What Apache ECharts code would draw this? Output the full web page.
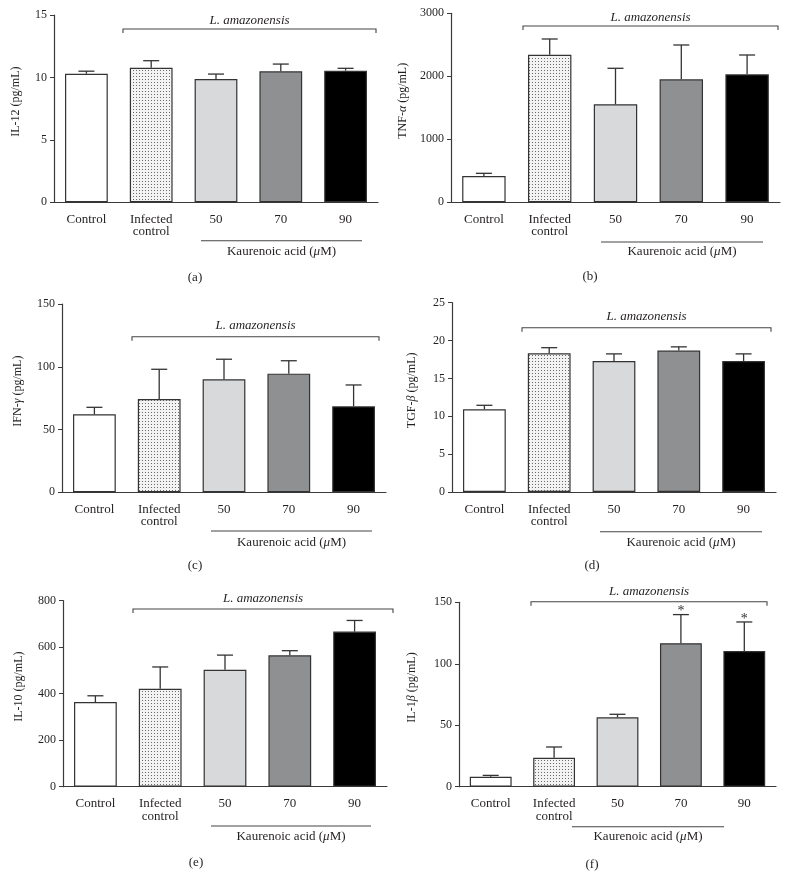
<!DOCTYPE html>
<html>
<head>
<meta charset="utf-8">
<script src="https://cdn.jsdelivr.net/npm/echarts@6/dist/echarts.min.js"></script>
<style>
html,body{margin:0;padding:0;background:#fff;}
#chart{width:789px;height:876px;}
</style>
</head>
<body>
<div id="chart"></div>
<script>
// ---- Data ----
const categories = ['Control', 'Infected\ncontrol', '50', '70', '90'];

const il12Mean = [10.3, 10.78, 9.87, 10.49, 10.54];
const il12Upper = [10.5, 11.34, 10.27, 11.07, 10.73];

const tnfMean = [417, 2343, 1556, 1952, 2032];
const tnfUpper = [460, 2592, 2127, 2497, 2338];

const ifnMean = [62.1, 74.3, 90.0, 94.5, 68.5];
const ifnUpper = [67.7, 98.0, 106, 104.8, 85.5];

const tgfMean = [10.92, 18.32, 17.3, 18.68, 17.3];
const tgfUpper = [11.45, 19.06, 18.24, 19.17, 18.24];

const il10Mean = [364, 421, 503, 565, 667];
const il10Upper = [391, 515, 566, 585, 715];

const il1bMean = [8.1, 23.6, 56.4, 116.7, 110.4];
const il1bUpper = [9.2, 32.3, 58.9, 140.0, 134.0];
const il1bSig = [0, 0, 0, 1, 1];

const yMaxes = [15, 3000, 150, 25, 800, 150];
const yIntervals = [5, 1000, 50, 5, 200, 50];
const panelLetters = ['(a)', '(b)', '(c)', '(d)', '(e)', '(f)'];
const yNames = [
  'IL-12 (pg/mL)',
  'TNF-{i|α} (pg/mL)',
  'IFN-{i|γ} (pg/mL)',
  'TGF-{i|β} (pg/mL)',
  'IL-10 (pg/mL)',
  'IL-1{i|β} (pg/mL)'
];
const groupLabel = 'L. amazonensis';
const drugLabel = 'Kaurenoic acid ({i|μ}M)';

const panels = [
  {mean: il12Mean, upper: il12Upper, sig: null},
  {mean: tnfMean, upper: tnfUpper, sig: null},
  {mean: ifnMean, upper: ifnUpper, sig: null},
  {mean: tgfMean, upper: tgfUpper, sig: null},
  {mean: il10Mean, upper: il10Upper, sig: null},
  {mean: il1bMean, upper: il1bUpper, sig: il1bSig}
];

// ---- Layout (pixels) ----
const layout = [
  {left: 54, width: 324, top: 15, height: 187.3, nameGap: 32,
   br: {x1: 123, x2: 376, y: 29, ty: 21}, kl: {x1: 201, x2: 362, y: 240.7, ty: 252}, lab: {x: 195, y: 278}},
  {left: 451, width: 329, top: 13.3, height: 189, nameGap: 42,
   br: {x1: 523, x2: 778, y: 26, ty: 18}, kl: {x1: 601, x2: 763, y: 242, ty: 252}, lab: {x: 590, y: 277}},
  {left: 62, width: 324, top: 304, height: 188.3, nameGap: 38,
   br: {x1: 132, x2: 379, y: 336.7, ty: 326}, kl: {x1: 211, x2: 372, y: 531, ty: 543}, lab: {x: 195, y: 566}},
  {left: 452, width: 324, top: 302.7, height: 189.3, nameGap: 34,
   br: {x1: 522, x2: 771, y: 327.7, ty: 317}, kl: {x1: 600, x2: 762, y: 531.7, ty: 542.7}, lab: {x: 592, y: 566}},
  {left: 63, width: 324, top: 600.7, height: 186, nameGap: 38,
   br: {x1: 133, x2: 393, y: 609, ty: 599}, kl: {x1: 211, x2: 371, y: 826, ty: 837}, lab: {x: 196, y: 863}},
  {left: 459, width: 317, top: 602.3, height: 184.4, nameGap: 41,
   br: {x1: 531, x2: 767, y: 601.7, ty: 592}, kl: {x1: 572, x2: 724, y: 826.7, ty: 837}, lab: {x: 592, y: 865}}
];

const FONT = '"Liberation Serif", "DejaVu Serif", serif';
const TXT = '#231f20';
const AXIS = '#3a3a3a';

// dotted pattern for infected control
function makeDots() {
  const c = document.createElement('canvas');
  c.width = 3; c.height = 3;
  const g = c.getContext('2d');
  g.fillStyle = '#f3f3f3';
  g.fillRect(0, 0, 3, 3);
  g.fillStyle = '#6a6a6a';
  g.fillRect(1, 1, 1, 1);
  return c;
}
const dotPattern = {image: makeDots(), repeat: 'repeat'};
const barColors = ['#ffffff', dotPattern, '#d8d9da', '#8f9092', '#000000'];

const grids = [], xAxes = [], yAxes = [], series = [], graphics = [];

panels.forEach((p, i) => {
  const L = layout[i];
  grids.push({left: L.left, top: L.top, width: L.width, height: L.height, containLabel: false});
  xAxes.push({
    type: 'category', gridIndex: i, data: categories,
    axisLine: {lineStyle: {color: AXIS, width: 1.2}},
    axisTick: {alignWithLabel: true, length: 4, lineStyle: {color: AXIS}},
    axisLabel: {interval: 0, color: TXT, fontFamily: FONT, fontSize: 13, lineHeight: 12.5, margin: 11}
  });
  yAxes.push({
    type: 'value', gridIndex: i, min: 0, max: yMaxes[i], interval: yIntervals[i],
    name: yNames[i], nameLocation: 'middle', nameGap: L.nameGap, nameRotate: 90,
    nameTextStyle: {color: TXT, fontFamily: FONT, fontSize: 12, padding: [0, 0, 0, 14],
      rich: {i: {fontStyle: 'italic', fontFamily: FONT, fontSize: 12, color: TXT}}},
    axisLine: {show: true, lineStyle: {color: AXIS, width: 1.2}},
    axisTick: {show: true, length: 4, lineStyle: {color: AXIS}},
    splitLine: {show: false},
    axisLabel: {color: TXT, fontFamily: FONT, fontSize: 12, margin: 7,
      formatter: function (v) { return String(v); }}
  });
  series.push({
    type: 'bar', xAxisIndex: i, yAxisIndex: i, barWidth: '66%',
    data: p.mean.map((v, k) => ({value: v, itemStyle: {color: barColors[k]}})),
    itemStyle: {borderColor: '#333', borderWidth: 1.2},
    emphasis: {disabled: true}, silent: true, z: 2
  });
  series.push({
    type: 'custom', xAxisIndex: i, yAxisIndex: i, z: 3, silent: true,
    data: p.mean.map((v, k) => [k, v, p.upper[k], p.sig ? p.sig[k] : 0]),
    renderItem: function (params, api) {
      const k = api.value(0);
      const a = api.coord([k, api.value(1)]);
      const b = api.coord([k, api.value(2)]);
      const hw = 8;
      const st = {stroke: '#333', lineWidth: 1.3};
      const children = [
        {type: 'line', shape: {x1: a[0], y1: a[1], x2: b[0], y2: b[1]}, style: st},
        {type: 'line', shape: {x1: b[0] - hw, y1: b[1], x2: b[0] + hw, y2: b[1]}, style: st}
      ];
      if (api.value(3)) {
        children.push({type: 'text', style: {text: '*', x: b[0], y: b[1] - 3,
          align: 'center', verticalAlign: 'middle', fontFamily: FONT, fontSize: 14, fill: '#333'}});
      }
      return {type: 'group', children: children};
    }
  });

  // L. amazonensis bracket
  const br = L.br;
  graphics.push({type: 'polyline', silent: true,
    shape: {points: [[br.x1, br.y + 4], [br.x1, br.y], [br.x2, br.y], [br.x2, br.y + 4]]},
    style: {stroke: '#444', lineWidth: 1.1, fill: null}});
  graphics.push({type: 'text', silent: true,
    style: {text: groupLabel, x: (br.x1 + br.x2) / 2, y: br.ty, align: 'center', verticalAlign: 'middle',
      fontFamily: FONT, fontSize: 13, fontStyle: 'italic', fill: TXT}});
  // Kaurenoic acid line
  const kl = L.kl;
  graphics.push({type: 'line', silent: true,
    shape: {x1: kl.x1, y1: kl.y, x2: kl.x2, y2: kl.y}, style: {stroke: '#444', lineWidth: 1.1}});
  graphics.push({type: 'text', silent: true,
    style: {text: drugLabel, x: (kl.x1 + kl.x2) / 2, y: kl.ty, align: 'center', verticalAlign: 'middle',
      fontFamily: FONT, fontSize: 13, fill: TXT,
      rich: {i: {fontStyle: 'italic', fontFamily: FONT, fontSize: 13, fill: TXT}}}});
  // panel letter
  graphics.push({type: 'text', silent: true,
    style: {text: panelLetters[i], x: L.lab.x, y: L.lab.y, align: 'center', verticalAlign: 'middle',
      fontFamily: FONT, fontSize: 13, fill: TXT}});
});

const chart = echarts.init(document.getElementById('chart'), null, {renderer: 'canvas'});
chart.setOption({
  animation: false,
  backgroundColor: '#ffffff',
  grid: grids, xAxis: xAxes, yAxis: yAxes, series: series, graphic: graphics
});
</script>
</body>
</html>
